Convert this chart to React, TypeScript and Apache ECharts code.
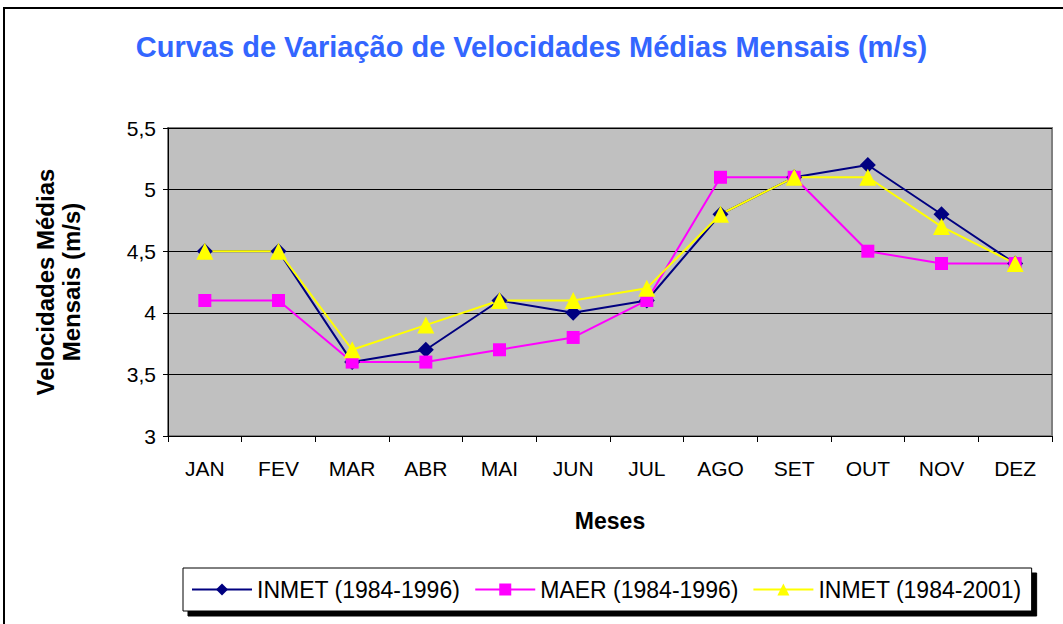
import React, { useEffect, useRef } from "react";
import * as echarts from "echarts";

const months = ["JAN", "FEV", "MAR", "ABR", "MAI", "JUN", "JUL", "AGO", "SET", "OUT", "NOV", "DEZ"];
const inmet8496 = [4.5, 4.5, 3.6, 3.7, 4.1, 4.0, 4.1, 4.8, 5.1, 5.2, 4.8, 4.4];
const maer8496 = [4.1, 4.1, 3.6, 3.6, 3.7, 3.8, 4.1, 5.1, 5.1, 4.5, 4.4, 4.4];
const inmet8401 = [4.5, 4.5, 3.7, 3.9, 4.1, 4.1, 4.2, 4.8, 5.1, 5.1, 4.7, 4.4];
const seriesNames = ["INMET (1984-1996)", "MAER (1984-1996)", "INMET (1984-2001)"];

export default function App() {
  const ref = useRef<HTMLDivElement>(null);
  useEffect(() => {
    const chart = echarts.init(ref.current!, null, { renderer: "svg" });
    const font = "Liberation Sans, Arial, sans-serif";
    chart.setOption({
      animation: false,
      backgroundColor: "#ffffff",
      textStyle: { fontFamily: font },
      title: {
        text: "Curvas de Variação de Velocidades Médias Mensais (m/s)",
        left: "center",
        top: 27,
        textStyle: { color: "#3366ff", fontSize: 29, fontWeight: "bold", fontFamily: font },
      },
      graphic: [
        {
          type: "rect",
          shape: { x: 4, y: 8, width: 1070, height: 630 },
          style: { fill: "none", stroke: "#000", lineWidth: 2 },
          silent: true,
        },
      ],
      legend: {
        left: 183,
        top: 568,
        padding: [10, 10, 10, 8],
        itemGap: 14,
        itemWidth: 60,
        itemHeight: 15,
        backgroundColor: "#ffffff",
        borderColor: "#000",
        borderWidth: 1,
        borderRadius: 0,
        shadowColor: "#000",
        shadowOffsetX: 5,
        shadowOffsetY: 5,
        shadowBlur: 0,
        textStyle: { fontSize: 23, color: "#000", fontFamily: font },
        data: seriesNames,
      },
      grid: {
        left: 168,
        top: 128,
        right: 11,
        bottom: 188,
        show: true,
        backgroundColor: "#c0c0c0",
        borderColor: "#808080",
        borderWidth: 2,
      },
      xAxis: {
        type: "category",
        data: months,
        boundaryGap: true,
        name: "Meses",
        nameLocation: "middle",
        nameGap: 73,
        nameTextStyle: { fontSize: 23, fontWeight: "bold", color: "#000" },
        axisLine: { lineStyle: { color: "#000", width: 1 } },
        axisTick: { show: true, length: 6, lineStyle: { color: "#000" } },
        axisLabel: { fontSize: 21, color: "#000", margin: 22 },
        splitLine: { show: false },
      },
      yAxis: {
        type: "value",
        min: 3,
        max: 5.5,
        interval: 0.5,
        name: "Velocidades Médias\nMensais (m/s)",
        nameLocation: "middle",
        nameGap: 84,
        nameRotate: 90,
        nameTextStyle: { fontSize: 24, fontWeight: "bold", color: "#000", lineHeight: 26 },
        axisLine: { show: true, lineStyle: { color: "#000", width: 1 } },
        axisTick: { show: true, length: 5, lineStyle: { color: "#000" } },
        axisLabel: {
          fontSize: 21,
          color: "#000",
          margin: 12,
          formatter: (v: number) => String(v).replace(".", ","),
        },
        splitLine: { show: true, lineStyle: { color: "#000", width: 1 } },
      },
      series: [
        {
          name: seriesNames[0],
          type: "line",
          data: inmet8496,
          symbol: "diamond",
          symbolSize: 16,
          lineStyle: { color: "#000080", width: 2 },
          itemStyle: { color: "#000080" },
        },
        {
          name: seriesNames[1],
          type: "line",
          data: maer8496,
          symbol: "rect",
          symbolSize: 13,
          lineStyle: { color: "#ff00ff", width: 2 },
          itemStyle: { color: "#ff00ff" },
        },
        {
          name: seriesNames[2],
          type: "line",
          data: inmet8401,
          symbol: "triangle",
          symbolSize: 17,
          lineStyle: { color: "#ffff00", width: 2 },
          itemStyle: { color: "#ffff00" },
        },
      ],
    });
    return () => chart.dispose();
  }, []);
  return (
    <div
      ref={ref}
      style={{ position: "fixed", left: 0, top: 0, width: 1063, height: 624 }}
    />
  );
}
